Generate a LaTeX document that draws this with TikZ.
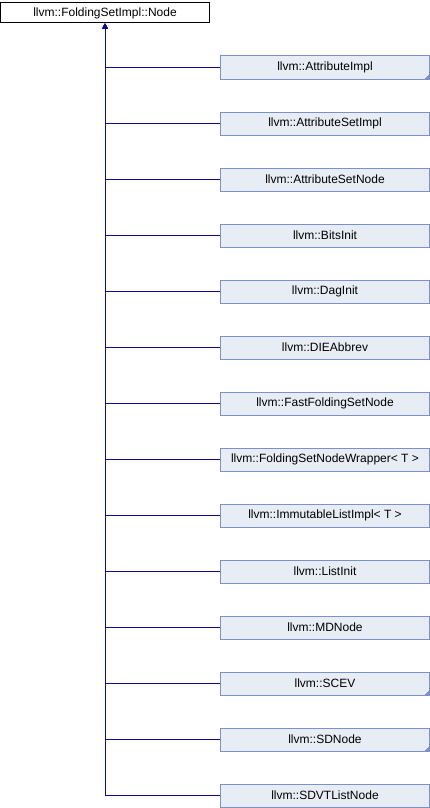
\documentclass[tikz,border=0pt]{standalone}
\usepackage{fontspec}
\setmainfont{Liberation Sans}
\usetikzlibrary{arrows.meta}

\definecolor{kante}{RGB}{12,12,140}
\definecolor{boxfill}{RGB}{232,236,244}
\definecolor{boxrand}{RGB}{122,146,200}

\tikzset{
	klasse/.style={draw=boxrand, fill=boxfill, line width=1pt, minimum width=209pt, minimum height=23pt, inner sep=0pt, font=\fontsize{12}{14}\selectfont},
	basis/.style={draw=black, fill=white, line width=1pt, minimum width=209pt, minimum height=20pt, inner sep=0pt, font=\fontsize{12}{14}\selectfont},
	erbt/.style={draw=kante, line width=1pt, -{Triangle[length=5pt,width=5pt]}},
	ecke/.style={fill=boxrand}
}

\begin{document}
\begin{tikzpicture}[x=1pt, y=-1pt]
	\useasboundingbox (0,0) rectangle (430,808); % Rand wie im Original

	\node[basis] (node) at (105,13) {llvm::FoldingSetImpl::Node};

	\node[klasse] (attrimpl) at (325,67.5) {llvm::AttributeImpl};
	\node[klasse] (attrsetimpl) at (325,123.5) {llvm::AttributeSetImpl};
	\node[klasse] (attrsetnode) at (325,179.5) {llvm::AttributeSetNode};
	\node[klasse] (bitsinit) at (325,235.5) {llvm::BitsInit};
	\node[klasse] (daginit) at (325,291.5) {llvm::DagInit};
	\node[klasse] (dieabbrev) at (325,347.5) {llvm::DIEAbbrev};
	\node[klasse] (fastnode) at (325,403.5) {llvm::FastFoldingSetNode};
	\node[klasse] (wrapper) at (325,459.5) {llvm::FoldingSetNodeWrapper< T >};
	\node[klasse] (immlist) at (325,515.5) {llvm::ImmutableListImpl< T >};
	\node[klasse] (listinit) at (325,571.5) {llvm::ListInit};
	\node[klasse] (mdnode) at (325,627.5) {llvm::MDNode};
	\node[klasse] (scev) at (325,683.5) {llvm::SCEV};
	\node[klasse] (sdnode) at (325,739.5) {llvm::SDNode};
	\node[klasse] (sdvt) at (325,795.5) {llvm::SDVTListNode};

	% Ecken fuer Klassen mit weiteren Unterklassen
	\fill[ecke] (attrimpl.south east) -- ++(0,-6) -- ++(-6,6) -- cycle;
	\fill[ecke] (scev.south east) -- ++(0,-6) -- ++(-6,6) -- cycle;
	\fill[ecke] (sdnode.south east) -- ++(0,-6) -- ++(-6,6) -- cycle;

	\draw[erbt] (sdvt.west) -| (node.south);
	\draw[erbt] (sdnode.west) -| (node.south);
	\draw[erbt] (scev.west) -| (node.south);
	\draw[erbt] (mdnode.west) -| (node.south);
	\draw[erbt] (listinit.west) -| (node.south);
	\draw[erbt] (immlist.west) -| (node.south);
	\draw[erbt] (wrapper.west) -| (node.south);
	\draw[erbt] (fastnode.west) -| (node.south);
	\draw[erbt] (dieabbrev.west) -| (node.south);
	\draw[erbt] (daginit.west) -| (node.south);
	\draw[erbt] (bitsinit.west) -| (node.south);
	\draw[erbt] (attrsetnode.west) -| (node.south);
	\draw[erbt] (attrsetimpl.west) -| (node.south);
	\draw[erbt] (attrimpl.west) -| (node.south);
\end{tikzpicture}
\end{document}
